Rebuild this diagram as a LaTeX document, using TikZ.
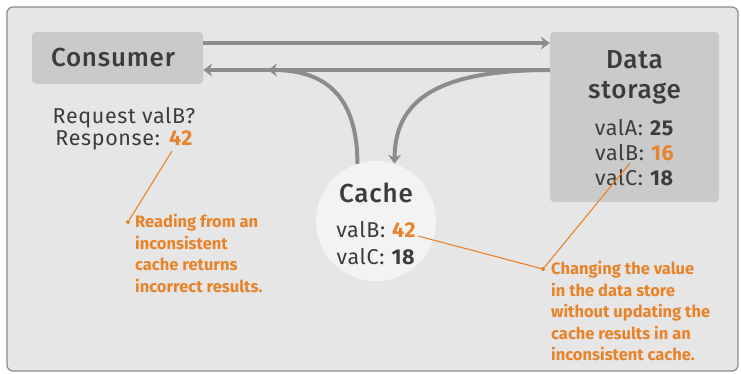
\documentclass[tikz,border=0pt]{standalone}
\usepackage{fontspec}
\setmainfont{Fira Sans}
\newfontfamily\titlefont{Fira Sans Medium}[LetterSpace=3]
\newfontfamily\valfont{Fira Sans}[LetterSpace=3]
\usetikzlibrary{arrows.meta}

\definecolor{panel}{HTML}{E6E6E6}
\definecolor{boxgray}{HTML}{CACACA}
\definecolor{cachefill}{HTML}{F3F3F3}
\definecolor{flowgray}{HTML}{8C8C8C}
\definecolor{ink}{HTML}{3C3C3C}
\definecolor{note}{HTML}{E8832A}

\tikzset{
  box/.style={fill=boxgray, rounded corners=4pt, inner sep=0pt},
  title/.style={text=ink, font=\fontsize{26}{30}\titlefont, align=center},
  vals/.style={text=ink, font=\fontsize{21.5}{25}\valfont, align=center},
  flow/.style={draw=flowgray, line width=4pt, -{Stealth[length=9pt, width=13pt, inset=3pt]}},
  hint/.style={draw=note, line width=1.1pt},
  dot/.style={circle, fill=note, inner sep=0pt, minimum size=4pt},
  notetext/.style={text=note, font=\fontsize{16.5}{21.5}\selectfont\bfseries, align=left, anchor=north west, inner sep=0pt}
}

\begin{document}
\begin{tikzpicture}[x=1pt, y=-1pt]
			\useasboundingbox (0,0) rectangle (741,373);
			\draw[fill=panel, draw=flowgray, line width=1.2pt, rounded corners=6pt] (7,7) rectangle (738,371);
			
			% the three parts
			\node[box, minimum width=171, minimum height=52] (consumer) at (117.5,58) {};
			\node[title] (consumertxt) at (113,58) {Consumer};
			\node[box, minimum width=169, minimum height=170] (storage) at (634.5,117) {};
			\node[title] (storagetxt) at (634.5,77) {Data\\storage};
			\node[vals] (storagevals) at (634.5,153) {valA: \textbf{25}\\valB: \textbf{\color{note}16}\\valC: \textbf{18}};
			\node[circle, fill=cachefill, minimum size=120, inner sep=0pt] (cache) at (376,221) {};
			\node[title] (cachetxt) at (376,193) {Cache};
			\node[vals, font=\fontsize{21.5}{27}\valfont] (cachevals) at (376,243.5) {valB: \textbf{\color{note}42}\\valC: \textbf{18}};
			\node[vals, font=\fontsize{21.5}{22}\valfont] (request) at (124,129) {Request valB?\\Response: \textbf{\color{note}42}};
			
			% lanes
			\coordinate (upper) at (0,43);
			\coordinate (lower) at (0,70);
			\coordinate (join) at (268,70);
			\draw[flow] (consumer.east |- upper) -- (storage.west |- upper);
			\draw[flow] (storage.west |- lower) -- (consumer.east |- lower);
			\draw[flow] (cache.108) .. controls +(0,-70) and +(55,0) .. (join);
			\draw[flow] (storage.west |- lower) .. controls +(-110,0) and +(0,-65) .. (cache.72);
			
			% notes
			\coordinate (resp42) at (172,151);
			\coordinate (cache42) at (418,236);
			\coordinate (store16) at (630,163);
			\node[dot] (d1) at (128,222) {};
			\node[dot] (d2) at (543,269) {};
			\draw[hint] (resp42) -- (d1);
			\draw[hint] (cache42) -- (d2);
			\draw[hint] (store16) -- (d2);
			\node[notetext] (note1) at (135,214) {Reading from an\\inconsistent\\cache returns\\incorrect results.};
			\node[notetext] (note2) at (551,261) {Changing the value\\in the data store\\without updating the\\cache results in an\\inconsistent cache.};
		\end{tikzpicture}
\end{document}
